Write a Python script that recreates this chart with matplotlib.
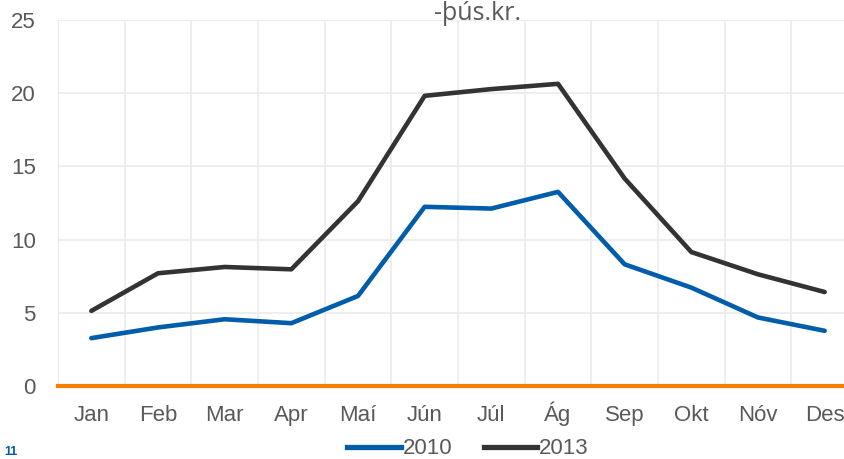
import matplotlib
matplotlib.use("Agg")
import matplotlib.pyplot as plt
from matplotlib.lines import Line2D

months = ["Jan", "Feb", "Mar", "Apr", "Maí", "Jún", "Júl", "Ág", "Sep", "Okt", "Nóv", "Des"]
s2010 = [3.27, 4.00, 4.56, 4.29, 6.15, 12.24, 12.12, 13.26, 8.31, 6.72, 4.68, 3.77]
s2013 = [5.13, 7.70, 8.13, 7.97, 12.62, 19.82, 20.28, 20.64, 14.17, 9.15, 7.63, 6.42]
yticks = [0, 5, 10, 15, 20, 25]
title = "-þús.kr."

W, H = 845, 459
fig = plt.figure(figsize=(W / 100, H / 100), dpi=100)
plt.rcParams['font.family'] = ['Liberation Sans', 'DejaVu Sans']

left, right, top, bottom = 58, 858, 20, 386
ax = fig.add_axes([left / W, (H - bottom) / H, (right - left) / W, (bottom - top) / H])

x = list(range(len(months)))
ax.plot(x, s2010, color="#005DAA", lw=3.3, solid_capstyle="round", solid_joinstyle="round", zorder=3)
ax.plot(x, s2013, color="#333333", lw=3.3, solid_capstyle="round", solid_joinstyle="round", zorder=3)
ax.axhline(0, color="#F77F00", lw=3.0, zorder=4, clip_on=False)

ax.set_xlim(-0.5, len(months) - 0.5)
ax.set_ylim(0, 25)
ax.set_yticks(yticks)
ax.set_xticks(x)
ax.set_xticklabels(months)
ax.set_xticks([i - 0.5 for i in range(len(months) + 1)], minor=True)
ax.grid(axis="y", which="major", color="#EBEBEB", lw=1.2)
ax.grid(axis="x", which="minor", color="#EBEBEB", lw=1.2)
ax.set_axisbelow(True)
for sp in ax.spines.values():
    sp.set_visible(False)
ax.spines["left"].set_visible(True)
ax.spines["left"].set_color("#EBEBEB")
ax.tick_params(axis="both", which="both", length=0, labelsize=16, colors="#595959")
ax.tick_params(axis="y", pad=16)
ax.tick_params(axis="x", pad=25)
for lab in ax.get_xticklabels():
    lab.set_verticalalignment("baseline")

fig.text(478 / W, 1 - 1 / H, title, ha="center", va="top", fontsize=18,
         color="#595959", family=["Open Sans", "DejaVu Sans"])

handles = [Line2D([], [], color="#005DAA", lw=3.8), Line2D([], [], color="#333333", lw=3.8)]
fig.legend(handles, ["2010", "2013"], loc="center", bbox_to_anchor=(468 / W, 1 - 449 / H),
           ncol=2, frameon=False, fontsize=16, labelcolor="#595959",
           handlelength=2.4, handletextpad=0.1, columnspacing=1.4, borderpad=0)

fig.text(4 / W, 1 / H, "11", ha="left", va="bottom", fontsize=9, fontweight="bold",
         color="#005DAA")

fig.savefig("out.png", dpi=100)
